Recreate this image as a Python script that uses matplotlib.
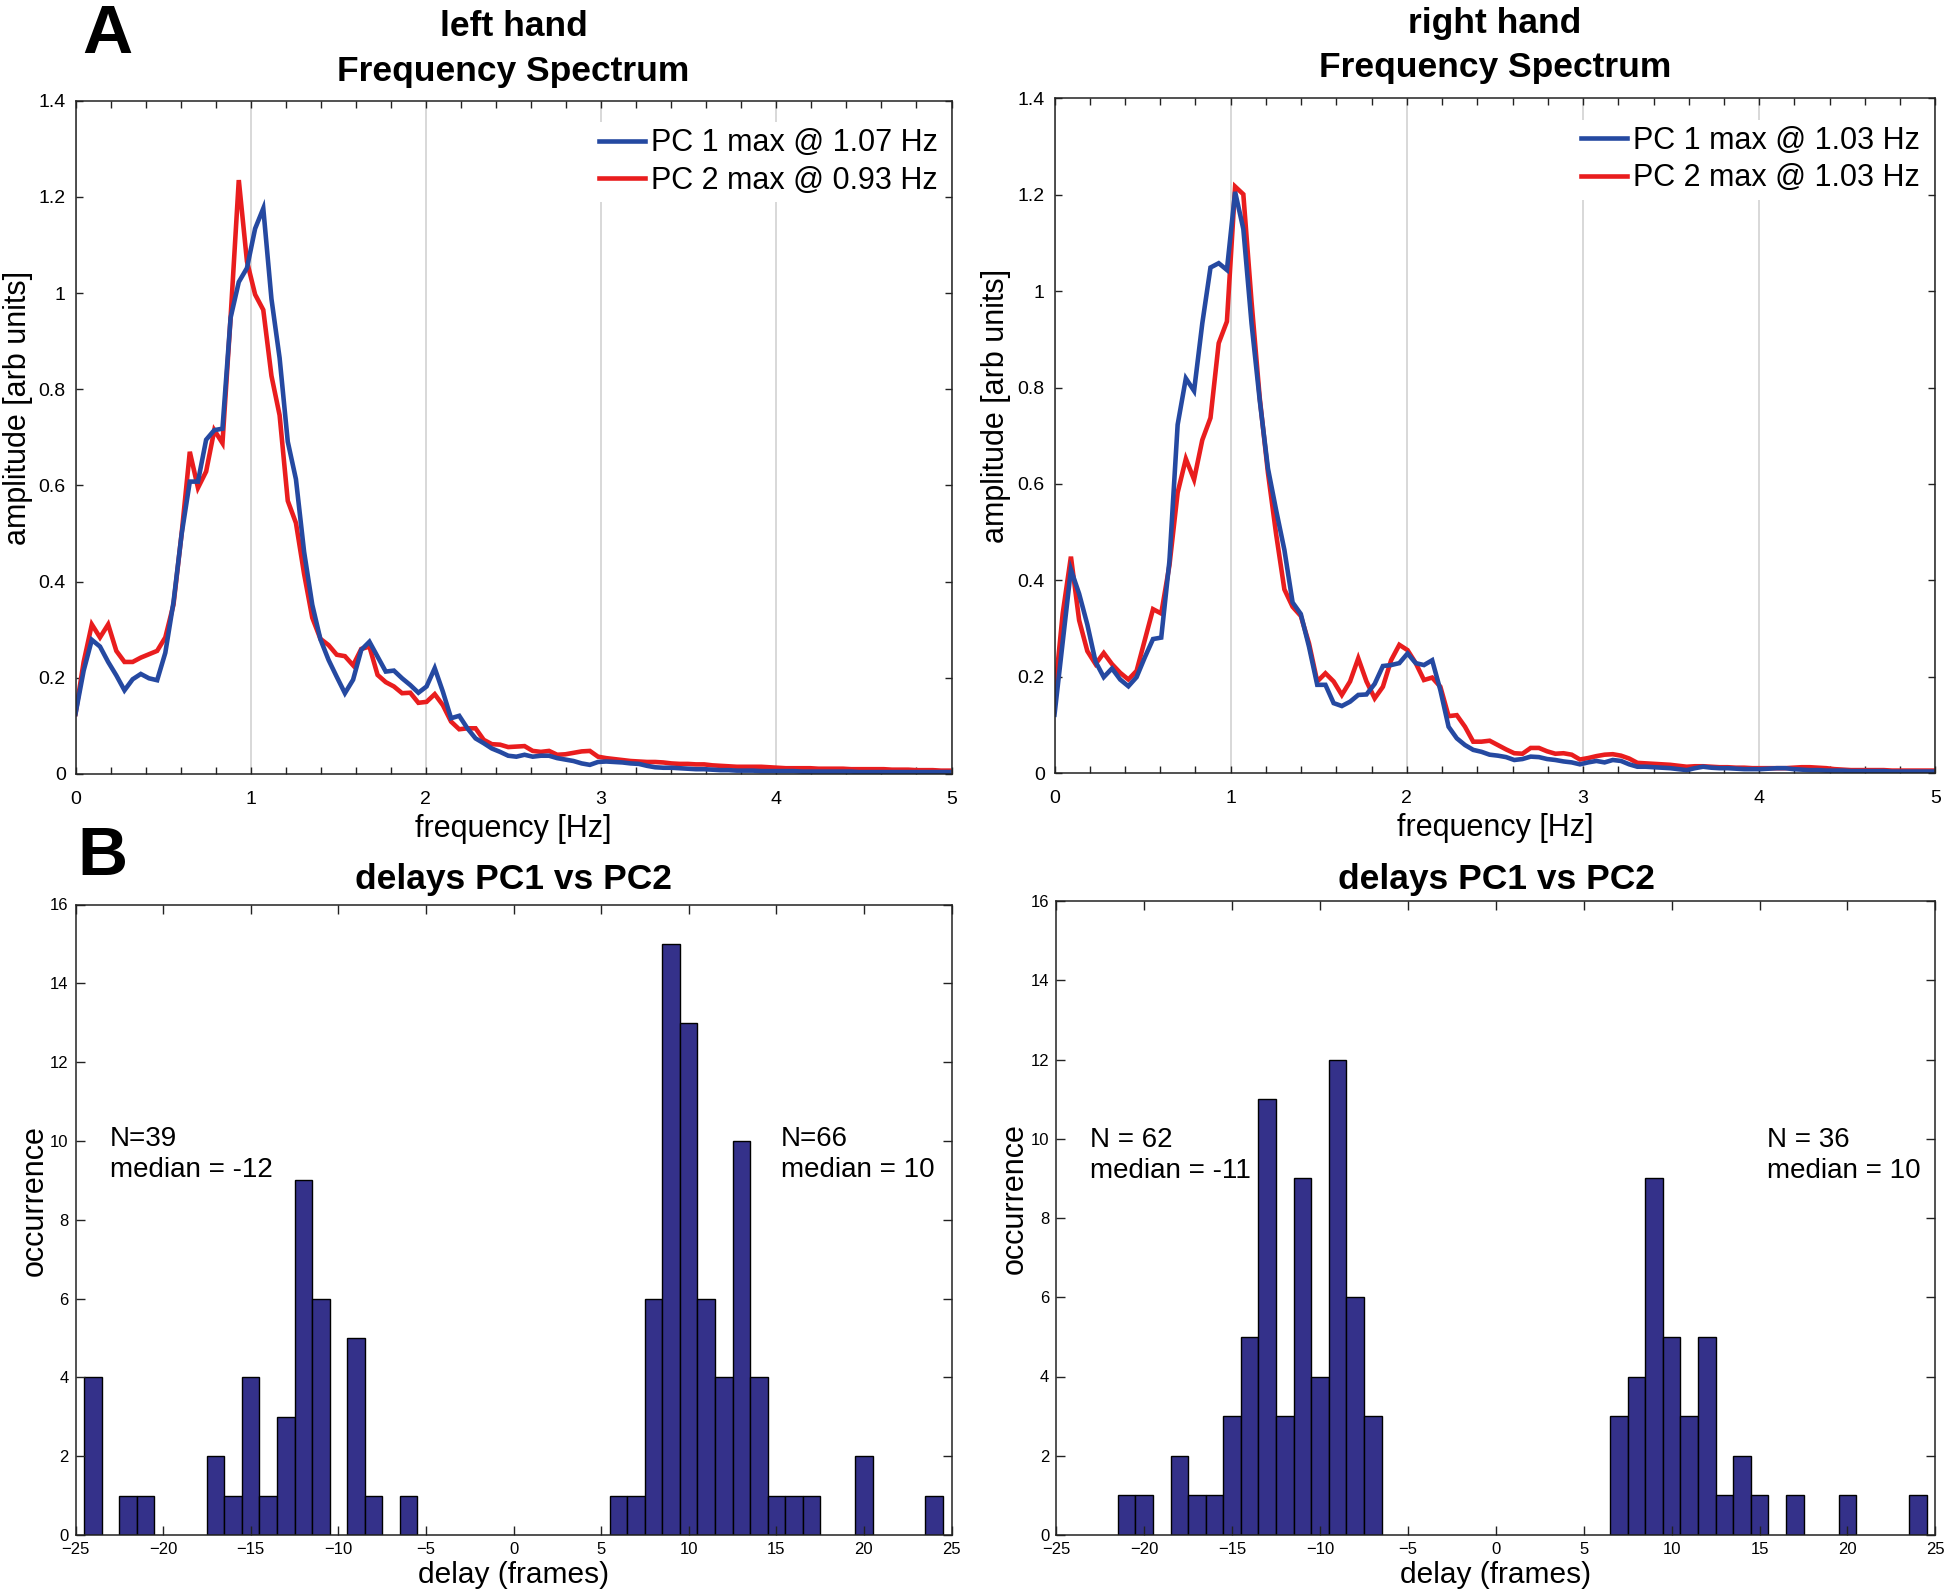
import numpy as np
import matplotlib.pyplot as plt

plt.rcParams['font.family'] = ['Liberation Sans', 'DejaVu Sans']

# frequency resolution of the spectra [Hz]
df = 0.0466

# PC amplitude spectra, one value per frequency bin (0 .. ~5 Hz)
pc1_left = [
    0.125, 0.215, 0.279, 0.265, 0.233, 0.205, 0.174, 0.197, 0.208, 0.199,
    0.195, 0.252, 0.357, 0.499, 0.608, 0.608, 0.695, 0.715, 0.718, 0.949,
    1.023, 1.052, 1.134, 1.176, 0.988, 0.865, 0.691, 0.613, 0.462, 0.352,
    0.280, 0.237, 0.202, 0.168, 0.196, 0.258, 0.275, 0.244, 0.213, 0.215,
    0.199, 0.185, 0.169, 0.182, 0.220, 0.171, 0.116, 0.121, 0.095, 0.074,
    0.064, 0.053, 0.046, 0.038, 0.036, 0.040, 0.036, 0.038, 0.038, 0.033,
    0.030, 0.027, 0.022, 0.019, 0.025, 0.026, 0.025, 0.024, 0.022, 0.021,
    0.017, 0.014, 0.013, 0.013, 0.012, 0.011, 0.010, 0.010, 0.009, 0.008,
    0.008, 0.007, 0.007, 0.007, 0.006, 0.006, 0.006, 0.006, 0.006, 0.005,
    0.005, 0.005, 0.005, 0.005, 0.005, 0.005, 0.004, 0.004, 0.004, 0.004,
    0.004, 0.004, 0.004, 0.004, 0.004, 0.004, 0.004, 0.004]
pc2_left = [
    0.125, 0.233, 0.311, 0.284, 0.311, 0.256, 0.233, 0.233, 0.242, 0.249,
    0.256, 0.284, 0.352, 0.500, 0.670, 0.595, 0.629, 0.715, 0.688, 0.950,
    1.235, 1.066, 0.997, 0.965, 0.828, 0.746, 0.568, 0.522, 0.416, 0.325,
    0.281, 0.268, 0.248, 0.245, 0.226, 0.260, 0.265, 0.206, 0.191, 0.182,
    0.168, 0.169, 0.148, 0.150, 0.166, 0.143, 0.109, 0.093, 0.095, 0.095,
    0.071, 0.062, 0.061, 0.056, 0.057, 0.058, 0.048, 0.046, 0.048, 0.040,
    0.041, 0.044, 0.047, 0.048, 0.036, 0.033, 0.031, 0.029, 0.027, 0.026,
    0.025, 0.025, 0.024, 0.022, 0.021, 0.021, 0.020, 0.020, 0.018, 0.017,
    0.016, 0.015, 0.015, 0.015, 0.015, 0.014, 0.013, 0.012, 0.012, 0.012,
    0.012, 0.011, 0.011, 0.011, 0.011, 0.010, 0.010, 0.010, 0.010, 0.010,
    0.009, 0.009, 0.009, 0.008, 0.008, 0.008, 0.007, 0.007]
pc1_right = [
    0.121, 0.272, 0.422, 0.372, 0.308, 0.231, 0.199, 0.217, 0.194, 0.180,
    0.199, 0.240, 0.278, 0.281, 0.440, 0.723, 0.819, 0.793, 0.933, 1.049,
    1.058, 1.044, 1.206, 1.129, 0.933, 0.773, 0.632, 0.545, 0.463, 0.354,
    0.330, 0.262, 0.183, 0.183, 0.145, 0.139, 0.148, 0.162, 0.163, 0.185,
    0.222, 0.224, 0.228, 0.248, 0.228, 0.224, 0.234, 0.172, 0.096, 0.072,
    0.058, 0.048, 0.044, 0.038, 0.036, 0.033, 0.027, 0.029, 0.034, 0.033,
    0.029, 0.027, 0.024, 0.022, 0.018, 0.022, 0.025, 0.022, 0.027, 0.025,
    0.018, 0.013, 0.013, 0.012, 0.011, 0.010, 0.008, 0.006, 0.010, 0.013,
    0.011, 0.010, 0.010, 0.009, 0.008, 0.008, 0.008, 0.009, 0.010, 0.010,
    0.008, 0.007, 0.006, 0.006, 0.005, 0.005, 0.005, 0.004, 0.004, 0.004,
    0.004, 0.004, 0.003, 0.003, 0.003, 0.003, 0.003, 0.003]
pc2_right = [
    0.158, 0.331, 0.449, 0.317, 0.253, 0.226, 0.249, 0.226, 0.208, 0.194,
    0.212, 0.276, 0.340, 0.331, 0.431, 0.582, 0.652, 0.609, 0.691, 0.737,
    0.892, 0.937, 1.217, 1.201, 0.978, 0.778, 0.623, 0.495, 0.381, 0.345,
    0.326, 0.269, 0.190, 0.207, 0.190, 0.162, 0.190, 0.238, 0.190, 0.155,
    0.179, 0.234, 0.266, 0.255, 0.228, 0.193, 0.198, 0.179, 0.118, 0.120,
    0.096, 0.065, 0.065, 0.067, 0.058, 0.049, 0.041, 0.040, 0.052, 0.052,
    0.045, 0.040, 0.041, 0.038, 0.028, 0.031, 0.035, 0.038, 0.039, 0.036,
    0.030, 0.021, 0.020, 0.019, 0.018, 0.017, 0.015, 0.013, 0.014, 0.014,
    0.013, 0.012, 0.012, 0.011, 0.011, 0.010, 0.010, 0.010, 0.010, 0.010,
    0.011, 0.012, 0.012, 0.011, 0.010, 0.008, 0.007, 0.006, 0.006, 0.006,
    0.006, 0.006, 0.005, 0.005, 0.005, 0.005, 0.005, 0.005]

legend_left = ['PC 1 max @ 1.07 Hz', 'PC 2 max @ 0.93 Hz']
legend_right = ['PC 1 max @ 1.03 Hz', 'PC 2 max @ 1.03 Hz']

# delay histograms (bin centre in frames, counts)
delay_left = [-24, -22, -21, -17, -16, -15, -14, -13, -12, -11, -9, -8, -6,
              6, 7, 8, 9, 10, 11, 12, 13, 14, 15, 16, 17, 20, 24]
count_left = [4, 1, 1, 2, 1, 4, 1, 3, 9, 6, 5, 1, 1,
              1, 1, 6, 15, 13, 6, 4, 10, 4, 1, 1, 1, 2, 1]
delay_right = [-21, -20, -18, -17, -16, -15, -14, -13, -12, -11, -10, -9, -8, -7,
               7, 8, 9, 10, 11, 12, 13, 14, 15, 17, 20, 24]
count_right = [1, 1, 2, 1, 1, 3, 5, 11, 3, 9, 4, 12, 6, 3,
               3, 4, 9, 5, 3, 5, 1, 2, 1, 1, 1, 1]

notes_left = [['N=39', 'median = -12'], ['N=66', 'median = 10']]
notes_right = [['N = 62', 'median = -11'], ['N = 36', 'median = 10']]

amp_ticks = [0, 0.2, 0.4, 0.6, 0.8, 1, 1.2, 1.4]
amp_ticklabels = ['0', '0.2', '0.4', '0.6', '0.8', '1', '1.2', '1.4']

blue = '#2549A1'
red = '#E91D1E'
navy = '#34318A'

W, H = 1946, 1591
fig = plt.figure(figsize=(W / 100, H / 100), dpi=100)


def rect(x0, y0, x1, y1):
    return [x0 / W, 1 - y1 / H, (x1 - x0) / W, (y1 - y0) / H]


def matlab_box(ax, size, pad, length):
    for s in ax.spines.values():
        s.set_linewidth(1.1)
        s.set_color('#222222')
    ax.tick_params(which='both', direction='in', top=True, right=True,
                   width=1.0, color='#222222', labelsize=size, pad=pad)
    ax.tick_params(which='major', length=length)
    ax.tick_params(which='minor', length=length)


# ---- A: frequency spectra ----
spec = [
    (rect(75.5, 100.7, 951.5, 774), 'left hand', pc1_left, pc2_left, legend_left, 27, 71, 513.5),
    (rect(1054.5, 98.4, 1935.4, 773), 'right hand', pc1_right, pc2_right, legend_right, 23.5, 67, 1495),
]
for r, hand, pc1, pc2, labels, y1, y2, xc in spec:
    ax = fig.add_axes(r)
    f1 = np.arange(len(pc1)) * df
    f2 = np.arange(len(pc2)) * df
    l2, = ax.plot(f2, pc2, color=red, lw=3.3, solid_joinstyle='miter')
    l1, = ax.plot(f1, pc1, color=blue, lw=3.3, solid_joinstyle='miter')
    ax.set_xlim(0, 5)
    ax.set_ylim(0, 1.4)
    ax.set_xticks([0, 1, 2, 3, 4, 5])
    ax.set_xticks(np.arange(0, 5.01, 0.2), minor=True)
    ax.set_yticks(amp_ticks)
    ax.set_yticklabels(amp_ticklabels)
    ax.grid(True, axis='x', which='major', color='#d6d6d6', lw=1.3)
    matlab_box(ax, 14, 7, 5)
    ax.tick_params(axis='x', pad=12)
    ax.set_xlabel('frequency [Hz]', fontsize=22)
    ax.xaxis.label.set_va('center')
    ax.xaxis.set_label_coords(0.5, -0.081)
    ax.set_ylabel('amplitude [arb units]', fontsize=22)
    ax.yaxis.label.set_va('center')
    ax.yaxis.set_label_coords(-0.066, 0.544)
    leg = ax.legend([l1, l2], labels, loc='upper left', bbox_to_anchor=(0.591, 0.968),
                    fontsize=22, frameon=True, fancybox=False, framealpha=1,
                    edgecolor='none', facecolor='white', handlelength=1.5,
                    handletextpad=0.2, borderpad=0.2, borderaxespad=0, labelspacing=0.24)
    leg.set_zorder(2.4)
    for t in leg.get_texts():
        t.set_clip_box(ax.bbox)
        t.set_clip_on(True)
    fig.text(xc / W, 1 - y1 / H, hand, ha='center', va='center', fontsize=25.5, fontweight='bold')
    fig.text(xc / W, 1 - y2 / H, 'Frequency Spectrum', ha='center', va='center',
             fontsize=25.5, fontweight='bold')

# ---- B: delay histograms ----
hist = [
    (rect(75.5, 904.5, 951.5, 1535), delay_left, count_left, notes_left, -23.03, 15.24, 513.5, 10.05, 9.26),
    (rect(1056.3, 901, 1935.4, 1535), delay_right, count_right, notes_right, -23.11, 15.45, 1496, 9.96, 9.18),
]
for r, delay, count, notes, xa, xb, xc, ya, yb in hist:
    ax = fig.add_axes(r)
    ax.bar(delay, count, width=1, color=navy, edgecolor='black', linewidth=1.0)
    ax.set_xlim(-25, 25)
    ax.set_ylim(0, 16)
    ax.set_xticks(np.arange(-25, 26, 5))
    ax.set_yticks(np.arange(0, 17, 2))
    matlab_box(ax, 12, 5, 6.5)
    ax.tick_params(axis='x', pad=5)
    ax.set_xlabel('delay (frames)', fontsize=21.5)
    ax.xaxis.label.set_va('center')
    ax.xaxis.set_label_coords(0.5, -0.063)
    ax.set_ylabel('occurrence', fontsize=22)
    ax.yaxis.label.set_va('center')
    ax.yaxis.set_label_coords(-0.047, 0.53)
    for x, lines in zip([xa, xb], notes):
        ax.text(x, ya, lines[0], fontsize=20, va='center', ha='left')
        ax.text(x, yb, lines[1], fontsize=20, va='center', ha='left')
    fig.text(xc / W, 1 - 880 / H, 'delays PC1 vs PC2', ha='center', va='center',
             fontsize=25.5, fontweight='bold')

fig.text(107 / W, 1 - 35 / H, 'A', ha='center', va='center', fontsize=50, fontweight='bold')
fig.text(102 / W, 1 - 857 / H, 'B', ha='center', va='center', fontsize=50, fontweight='bold')

plt.savefig('out.png', dpi=100)
plt.close()
